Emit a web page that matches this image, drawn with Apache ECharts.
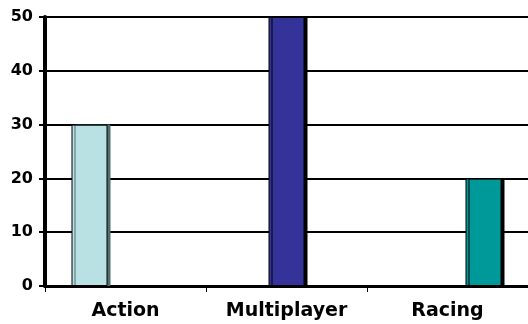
<!DOCTYPE html>
<html>
<head>
<meta charset="utf-8">
<script src="https://cdn.jsdelivr.net/npm/echarts@6/dist/echarts.min.js"></script>
<style>
  html, body { margin: 0; padding: 0; background: #fff; }
  #chart { width: 528px; height: 324px; }
</style>
</head>
<body>
<div id="chart"></div>
<script>
// Game genre counts, one series per genre
const categories = ['Action', 'Multiplayer', 'Racing'];
const actionValues = [30, '-', '-'];
const multiplayerValues = ['-', 50, '-'];
const racingValues = ['-', '-', 20];
const yTicks = { min: 0, max: 50, interval: 10 };

const labelFont = 'DejaVu Sans';

function barSeries(name, data, fill, shadow) {
  return {
    name: name,
    type: 'bar',
    data: data,
    barWidth: 36,
    barGap: '0%',
    itemStyle: {
      color: fill,
      borderColor: '#000',
      borderWidth: 1,
      shadowColor: shadow,
      shadowOffsetX: 3,
      shadowOffsetY: 0,
      shadowBlur: 0
    }
  };
}

const chart = echarts.init(document.getElementById('chart'), null, { renderer: 'canvas' });
chart.setOption({
  animation: false,
  backgroundColor: '#fff',
  grid: { left: 45, right: 0, top: 17, bottom: 38, containLabel: false },
  xAxis: {
    type: 'category',
    data: categories,
    axisLine: { show: true, lineStyle: { color: '#000', width: 3 } },
    axisTick: { show: true, alignWithLabel: false, length: 6, lineStyle: { color: '#000', width: 1 } },
    axisLabel: {
      color: '#000',
      fontFamily: labelFont,
      fontWeight: 'bold',
      fontSize: 19,
      margin: 16
    },
    splitLine: { show: false }
  },
  yAxis: {
    type: 'value',
    min: yTicks.min,
    max: yTicks.max,
    interval: yTicks.interval,
    axisLine: { show: true, lineStyle: { color: '#000', width: 4 } },
    axisTick: { show: true, length: 6, lineStyle: { color: '#000', width: 2 } },
    axisLabel: {
      color: '#000',
      fontFamily: labelFont,
      fontWeight: 'bold',
      fontSize: 16,
      margin: 12
    },
    splitLine: { show: true, lineStyle: { color: '#000', width: 2 } }
  },
  series: [
    barSeries('Action', actionValues, '#b9e0e3', '#4f6f6f'),
    barSeries('Multiplayer', multiplayerValues, '#333399', '#000'),
    barSeries('Racing', racingValues, '#009999', '#000')
  ]
});
</script>
</body>
</html>
